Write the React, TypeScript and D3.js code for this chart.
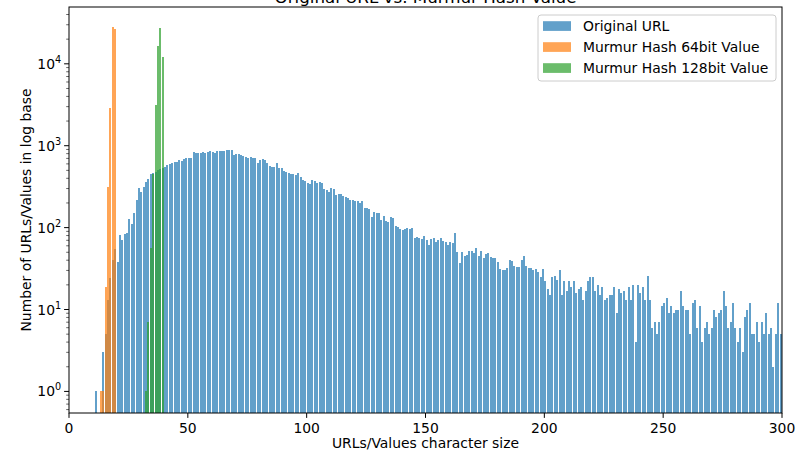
import React from 'react';
import * as d3 from 'd3';

const title = 'Original URL vs. Murmur Hash Value';
const xLabel = 'URLs/Values character size';
const yLabel = 'Number of URLs/Values in log base';
const seriesNames = ['Original URL', 'Murmur Hash 64bit Value', 'Murmur Hash 128bit Value'];
const seriesColors = ['#1f77b4', '#ff7f0e', '#2ca02c'];
const xTicks = [0, 50, 100, 150, 200, 250, 300];
const yTickExps = [0, 1, 2, 3, 4];

// Original URL length histogram: counts for lengths 11, 12, 13, ...
const urlStart = 11;
const urlCounts = [
  1, 0, 0, 3, 5, 13, 24, 40, 55, 38,
  82, 71, 84, 85, 128, 112, 150, 218, 303, 274,
  316, 358, 389, 447, 460, 480, 505, 525, 540, 555,
  580, 595, 615, 625, 640, 660, 650, 690, 700, 710,
  700, 845, 810, 825, 815, 830, 820, 845, 850, 840,
  805, 860, 855, 870, 850, 880, 890, 875, 770, 790,
  800, 780, 740, 730, 710, 725, 715, 700, 620, 670,
  680, 660, 620, 560, 545, 550, 610, 540, 530, 485,
  475, 470, 455, 450, 445, 460, 420, 385, 375, 350,
  345, 385, 370, 355, 358, 350, 295, 290, 275, 305,
  300, 250, 260, 255, 240, 235, 230, 218, 215, 212,
  210, 198, 213, 175, 172, 168, 135, 155, 150, 152,
  124, 139, 120, 118, 133, 130, 105, 102, 96, 94,
  95, 99, 97, 98, 74, 76, 75, 73, 79, 70,
  62, 73, 75, 67, 70, 75, 68, 66, 62, 66,
  65, 85, 51, 37, 51, 45, 46, 52, 52, 49,
  56, 45, 52, 43, 47, 49, 44, 42, 42, 38,
  31, 30, 30, 32, 40, 39, 34, 33, 33, 40,
  45, 34, 32, 32, 30, 31, 29, 25, 31, 22,
  18, 15, 25, 26, 23, 30, 15, 22, 17, 22,
  19, 22, 16, 18, 19, 13, 17, 22, 25, 25,
  17, 20, 15, 19, 13, 14, 15, 15, 19, 9,
  18, 16, 17, 13, 19, 13, 20, 4, 20, 16,
  19, 13, 26, 13, 6, 7, 5, 7, 11, 12,
  14, 9, 11, 9, 10, 10, 17, 11, 10, 10,
  5, 12, 13, 6, 11, 4, 6, 7, 5, 6,
  10, 8, 9, 10, 17, 11, 6, 7, 12, 6,
  4, 6, 3, 8, 10, 12, 5, 5, 7, 4,
  7, 5, 9, 5, 6, 2, 5, 12, 5,
];

// Murmur hash 64bit value lengths
const hash64Start = 13;
const hash64Counts = [1, 1, 19, 309, 2900, 28200, 26500];

// Murmur hash 128bit value lengths
const hash128Start = 32;
const hash128Counts = [1, 7, 57, 450, 3150, 16600, 27000, 12200];

const FONT = 'DejaVu Sans, sans-serif';

export default function App() {
  const W = 796;
  const H = 452;
  const left = 69;
  const right = 782;
  const top = 7;
  const bottom = 413;

  const x = d3.scaleLinear().domain([0, 300]).range([left, right]);
  const y = d3.scaleLog().domain([0.545, 49400]).range([bottom, top]);

  const series = [
    { start: urlStart, counts: urlCounts, color: seriesColors[0] },
    { start: hash64Start, counts: hash64Counts, color: seriesColors[1] },
    { start: hash128Start, counts: hash128Counts, color: seriesColors[2] },
  ];

  const minorTicks: number[] = [];
  for (let e = -1; e <= 4; e++) {
    for (let m = 2; m <= 9; m++) {
      const v = m * Math.pow(10, e);
      if (v >= 0.545 && v <= 49400) minorTicks.push(v);
    }
  }

  return (
    <svg
      width={W}
      height={H}
      style={{ position: 'absolute', left: 0, top: 0, background: '#fff' }}
      fontFamily={FONT}
    >
      <defs>
        <clipPath id="plotClip">
          <rect x={left} y={top} width={right - left} height={bottom - top} />
        </clipPath>
      </defs>
      <rect x={0} y={0} width={W} height={H} fill="#fff" />

      <g clipPath="url(#plotClip)">
        {series.map((s, si) => (
          <g key={si} fill={s.color} fillOpacity={0.7} shapeRendering="crispEdges">
            {s.counts.map((c, i) => {
              if (c <= 0) return null;
              const k = s.start + i;
              const x0 = Math.round(x(k));
              const w = Math.max(1, Math.round(x(k + 1) - x(k) - 0.5));
              const yt = y(c);
              return <rect key={i} x={x0} y={yt} width={w} height={bottom - yt} />;
            })}
          </g>
        ))}
      </g>

      {/* spines */}
      <rect x={left} y={top} width={right - left} height={bottom - top} fill="none" stroke="#000" strokeWidth={1} />

      {/* x ticks */}
      {xTicks.map((t) => (
        <g key={t}>
          <line x1={x(t)} x2={x(t)} y1={bottom} y2={bottom + 4.9} stroke="#000" strokeWidth={1} />
          <text x={x(t)} y={bottom + 20} textAnchor="middle" fontSize={13.9} fill="#000">
            {t}
          </text>
        </g>
      ))}

      {/* y minor ticks */}
      {minorTicks.map((v, i) => (
        <line key={i} x1={left - 2.8} x2={left} y1={y(v)} y2={y(v)} stroke="#000" strokeWidth={0.6} />
      ))}

      {/* y major ticks */}
      {yTickExps.map((e) => {
        const yy = y(Math.pow(10, e));
        return (
          <g key={e}>
            <line x1={left - 4.9} x2={left} y1={yy} y2={yy} stroke="#000" strokeWidth={1} />
            <text x={left - 14} y={yy + 5} textAnchor="end" fontSize={13.9} fill="#000">
              10
            </text>
            <text x={left - 14} y={yy - 1} textAnchor="start" fontSize={9.7} fill="#000">
              {e}
            </text>
          </g>
        );
      })}

      {/* axis labels */}
      <text x={(left + right) / 2} y={448} textAnchor="middle" fontSize={13.9} fill="#000">
        {xLabel}
      </text>
      <text
        transform={`translate(31, ${(top + bottom) / 2}) rotate(-90)`}
        textAnchor="middle"
        fontSize={13.9}
        fill="#000"
      >
        {yLabel}
      </text>

      {/* title (partially clipped at the top, as in the source image) */}
      <text x={(left + right) / 2} y={3} textAnchor="middle" fontSize={16.7} fill="#000">
        {title}
      </text>

      {/* legend */}
      <g>
        <rect x={538} y={15} width={238} height={66} rx={3} fill="#fff" fillOpacity={0.8} stroke="#cccccc" strokeWidth={1} />
        {seriesNames.map((name, i) => {
          const cy = 26 + i * 21;
          return (
            <g key={name}>
              <rect x={543} y={cy - 4.8} width={28} height={9.7} fill={seriesColors[i]} fillOpacity={0.7} />
              <text x={583} y={cy + 5} fontSize={13.9} fill="#000">
                {name}
              </text>
            </g>
          );
        })}
      </g>
    </svg>
  );
}
